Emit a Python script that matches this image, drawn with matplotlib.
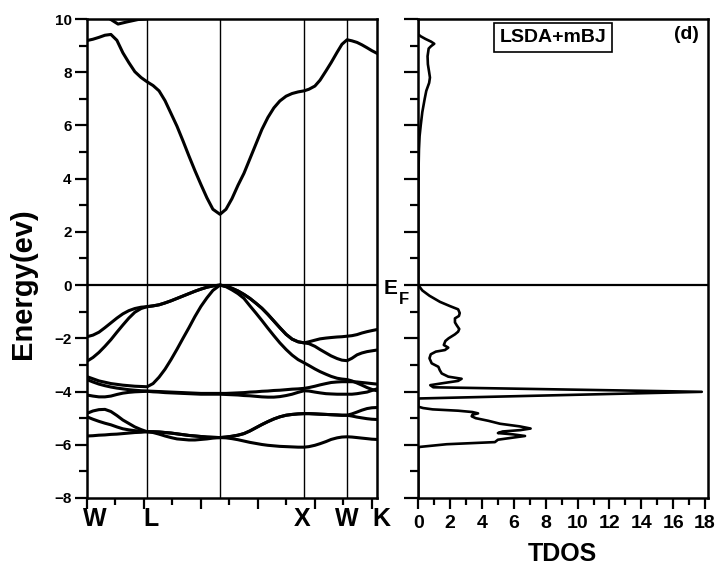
import matplotlib
matplotlib.use("Agg")
import matplotlib.pyplot as plt
import matplotlib.transforms as mtransforms
from matplotlib.ticker import MultipleLocator, NullFormatter

plt.rcParams['font.family'] = ['Liberation Sans', 'DejaVu Sans']
plt.rcParams['font.weight'] = 'bold'

# k-path coordinate (W - L - G - X - W - K)
k_path = [0.000, 0.021, 0.042, 0.063, 0.084, 0.105, 0.126, 0.147, 0.168, 0.190, 0.211,
          0.232, 0.253, 0.274, 0.295, 0.316, 0.337, 0.358, 0.379, 0.400, 0.421, 0.442, 0.467,
          0.488, 0.509, 0.530, 0.551, 0.572, 0.593, 0.614, 0.635, 0.656, 0.677, 0.699, 0.720,
          0.741, 0.762,
          0.779, 0.800, 0.818, 0.839, 0.857, 0.878, 0.895, 0.913,
          0.930, 0.948, 0.965, 0.983, 1.000, 1.018]
k_sym = [0.211, 0.467, 0.762, 0.913]
k_names = ['W', 'L', 'X', 'W', 'K']
k_name_pos = [0.028, 0.225, 0.755, 0.913, 1.032]

# band energies (eV) along k_path
band_1 = [-1.94, -1.88, -1.77, -1.60, -1.42, -1.24, -1.08, -0.96, -0.88, -0.83, -0.81,
          -0.78, -0.74, -0.67, -0.59, -0.50, -0.41, -0.32, -0.23, -0.15, -0.08, -0.03, 0.00,
          -0.04, -0.12, -0.22, -0.35, -0.50, -0.68, -0.87, -1.10, -1.35, -1.60, -1.85, -2.03,
          -2.13, -2.17,
          -2.13, -2.07, -2.02, -1.99, -1.97, -1.95, -1.94, -1.92,
          -1.90, -1.86, -1.80, -1.75, -1.71, -1.67]
band_2 = [-2.86, -2.72, -2.53, -2.30, -2.05, -1.77, -1.50, -1.24, -1.02, -0.88, -0.81,
          -0.78, -0.74, -0.67, -0.59, -0.50, -0.41, -0.32, -0.23, -0.15, -0.08, -0.03, 0.00,
          -0.04, -0.12, -0.22, -0.35, -0.50, -0.68, -0.87, -1.10, -1.35, -1.60, -1.85, -2.03,
          -2.13, -2.17,
          -2.20, -2.30, -2.42, -2.55, -2.66, -2.76, -2.82, -2.84,
          -2.75, -2.62, -2.55, -2.50, -2.47, -2.44]
band_3 = [-3.44, -3.52, -3.60, -3.65, -3.70, -3.73, -3.76, -3.78, -3.80, -3.81, -3.82,
          -3.70, -3.46, -3.16, -2.80, -2.41, -2.00, -1.60, -1.18, -0.80, -0.48, -0.20, 0.00,
          -0.06, -0.18, -0.32, -0.50, -0.78, -1.05, -1.33, -1.62, -1.90, -2.17, -2.42, -2.63,
          -2.80, -2.92,
          -3.02, -3.15, -3.25, -3.35, -3.43, -3.50, -3.53, -3.55,
          -3.60, -3.68, -3.76, -3.85, -3.92, -3.97]
band_4 = [-3.55, -3.64, -3.72, -3.78, -3.83, -3.87, -3.90, -3.93, -3.95, -3.97, -3.98,
          -3.99, -4.00, -4.01, -4.02, -4.03, -4.04, -4.05, -4.06, -4.07, -4.07, -4.07, -4.07,
          -4.07, -4.06, -4.05, -4.04, -4.02, -4.01, -3.99, -3.98, -3.96, -3.95, -3.93, -3.91,
          -3.90, -3.88,
          -3.85, -3.80, -3.75, -3.70, -3.66, -3.64, -3.63, -3.63,
          -3.63, -3.64, -3.66, -3.68, -3.70, -3.72]
band_5 = [-4.13, -4.17, -4.20, -4.20, -4.17, -4.11, -4.06, -4.03, -4.01, -4.00, -3.99,
          -4.01, -4.02, -4.04, -4.05, -4.06, -4.07, -4.08, -4.09, -4.10, -4.10, -4.10, -4.10,
          -4.11, -4.12, -4.13, -4.15, -4.16, -4.18, -4.20, -4.21, -4.21, -4.19, -4.15, -4.10,
          -4.03, -3.97,
          -3.98, -4.02, -4.05, -4.08, -4.09, -4.10, -4.10, -4.10,
          -4.10, -4.08, -4.05, -4.02, -3.96, -3.90]
band_6 = [-4.82, -4.73, -4.68, -4.67, -4.75, -4.90, -5.07, -5.20, -5.33, -5.43, -5.51,
          -5.51, -5.52, -5.54, -5.56, -5.59, -5.62, -5.65, -5.67, -5.69, -5.71, -5.72, -5.73,
          -5.71, -5.68, -5.64, -5.58, -5.48, -5.36, -5.24, -5.13, -5.03, -4.95, -4.89, -4.86,
          -4.84, -4.83,
          -4.83, -4.84, -4.85, -4.86, -4.87, -4.88, -4.89, -4.89,
          -4.84, -4.77, -4.70, -4.64, -4.61, -4.60]
band_7 = [-4.95, -5.04, -5.12, -5.19, -5.25, -5.33, -5.40, -5.44, -5.47, -5.49, -5.51,
          -5.51, -5.52, -5.54, -5.56, -5.59, -5.62, -5.65, -5.67, -5.69, -5.71, -5.72, -5.73,
          -5.71, -5.68, -5.64, -5.58, -5.48, -5.36, -5.24, -5.13, -5.03, -4.95, -4.89, -4.86,
          -4.84, -4.83,
          -4.83, -4.84, -4.85, -4.86, -4.87, -4.88, -4.89, -4.89,
          -4.92, -4.96, -4.99, -5.02, -5.04, -5.05]
band_8 = [-5.67, -5.66, -5.64, -5.63, -5.61, -5.60, -5.58, -5.56, -5.54, -5.53, -5.51,
          -5.54, -5.60, -5.67, -5.73, -5.78, -5.80, -5.82, -5.82, -5.80, -5.78, -5.75, -5.73,
          -5.74, -5.77, -5.81, -5.86, -5.91, -5.95, -5.99, -6.02, -6.04, -6.06, -6.07, -6.08,
          -6.09, -6.09,
          -6.07, -6.02, -5.96, -5.88, -5.80, -5.74, -5.71, -5.70,
          -5.71, -5.73, -5.75, -5.77, -5.79, -5.80]
band_9 = [9.19, 9.24, 9.31, 9.39, 9.42, 9.20, 8.73, 8.36, 8.02, 7.80, 7.64,
          7.50, 7.30, 6.93, 6.45, 5.97, 5.42, 4.85, 4.30, 3.78, 3.28, 2.85, 2.66,
          2.85, 3.25, 3.75, 4.20, 4.75, 5.30, 5.85, 6.30, 6.66, 6.92, 7.10, 7.20,
          7.26, 7.30,
          7.36, 7.48, 7.70, 8.05, 8.36, 8.75, 9.05, 9.22,
          9.18, 9.12, 9.03, 8.92, 8.81, 8.71]
bands = [band_1, band_2, band_3, band_4, band_5, band_6, band_7, band_8, band_9]

# short piece of the next conduction band seen below 10 eV
k_band_10 = [0.081, 0.109, 0.140, 0.179, 0.204]
band_10 = [10.0, 9.81, 9.89, 9.98, 10.0]

# total density of states
dos_energy = [10.0, 9.42, 9.35, 9.25, 9.15, 9.07, 8.98, 8.89, 8.60, 8.30,
              8.00, 7.80, 7.60, 7.30, 7.00, 6.50, 6.00, 5.60, 5.10, 4.50,
              3.50, 2.70, 0.00,
              -0.20, -0.40, -0.63, -0.79, -0.91, -1.05, -1.16, -1.25, -1.40, -1.50,
              -1.65, -1.75, -1.85, -2.00, -2.10, -2.25, -2.35, -2.44, -2.50, -2.60,
              -2.75, -2.94, -3.07, -3.20, -3.32, -3.44, -3.52, -3.60, -3.68, -3.76,
              -3.84, -4.01, -4.26, -4.30, -4.57, -4.62, -4.67, -4.72, -4.77, -4.82,
              -4.87, -4.93, -5.00, -5.10, -5.21, -5.31, -5.39, -5.45, -5.50, -5.56,
              -5.61, -5.67, -5.73, -5.81, -5.90, -5.98, -6.08, -6.12, -8.00]
dos_total = [0.0, 0.0, 0.15, 0.45, 0.80, 1.00, 0.80, 0.65, 0.58, 0.60,
             0.68, 0.73, 0.68, 0.50, 0.40, 0.25, 0.15, 0.08, 0.04, 0.02,
             0.01, 0.0, 0.0,
             0.25, 0.70, 1.36, 1.99, 2.50, 2.60, 2.55, 2.30, 2.30, 2.40,
             2.57, 2.50, 2.30, 1.90, 1.70, 1.60, 1.88, 1.67, 1.10, 0.78,
             0.70, 0.84, 1.26, 1.35, 1.47, 1.88, 2.72, 2.50, 1.60, 0.75,
             0.94, 17.8, 0.07, 0.0, 0.0, 0.30, 0.90, 2.50, 3.40, 3.75,
             3.40, 3.35, 3.60, 4.40, 5.13, 6.38, 7.05, 6.40, 5.30, 5.00,
             5.96, 6.70, 5.96, 5.00, 4.81, 1.78, 0.10, 0.0, 0.0]

fig = plt.figure(figsize=(7.2, 5.69), dpi=100)
ax1 = fig.add_axes([0.1208, 0.1248, 0.4028, 0.8418])
ax2 = fig.add_axes([0.5810, 0.1248, 0.4019, 0.8418])

# band structure
for b in bands:
    ax1.plot(k_path, b, color='black', lw=2.2, solid_joinstyle='round')
ax1.plot(k_band_10, band_10, color='black', lw=2.2, solid_joinstyle='round')
for k in k_sym:
    ax1.axvline(k, color='black', lw=1.0)
ax1.axhline(0, color='black', lw=1.6)

ax1.set_xlim(0, 1.018)
ax1.set_ylim(-8, 10)
ax1.xaxis.set_major_locator(MultipleLocator(0.2))
ax1.xaxis.set_minor_locator(MultipleLocator(0.1))
ax1.xaxis.set_major_formatter(NullFormatter())
ax1.yaxis.set_major_locator(MultipleLocator(2))
ax1.yaxis.set_minor_locator(MultipleLocator(1))
ax1.tick_params(axis='y', which='major', direction='out', length=9, width=1.6,
                labelsize=11, pad=2)
ax1.tick_params(axis='y', which='minor', direction='out', length=5.5, width=1.6)
ax1.tick_params(axis='x', which='major', direction='out', length=8, width=1.6)
ax1.tick_params(axis='x', which='minor', direction='out', length=5, width=1.6)

trans = mtransforms.blended_transform_factory(ax1.transData, ax1.transAxes)
for name, pos in zip(k_names, k_name_pos):
    ax1.text(pos, -0.044, name, transform=trans, ha='center', va='center',
             fontsize=18, fontweight='bold', clip_on=False)

# TDOS panel
ax2.plot(dos_total, dos_energy, color='black', lw=1.9, solid_joinstyle='round')
ax2.axhline(0, color='black', lw=1.6)
ax2.set_xlim(0, 18.17)
ax2.set_ylim(-8, 10)
ax2.xaxis.set_major_locator(MultipleLocator(2))
ax2.xaxis.set_minor_locator(MultipleLocator(1))
ax2.yaxis.set_major_locator(MultipleLocator(2))
ax2.yaxis.set_minor_locator(MultipleLocator(1))
ax2.yaxis.set_major_formatter(NullFormatter())
ax2.tick_params(axis='y', which='major', direction='out', length=10, width=1.6)
ax2.tick_params(axis='y', which='minor', direction='out', length=6, width=1.6)
ax2.tick_params(axis='x', which='major', direction='out', length=8, width=1.6,
                labelsize=14, pad=4)
ax2.tick_params(axis='x', which='minor', direction='out', length=5, width=1.6)

for ax in (ax1, ax2):
    for sp in ax.spines.values():
        sp.set_linewidth(1.8)
    for lab in ax.get_xticklabels() + ax.get_yticklabels():
        lab.set_fontweight('bold')

ax2.text(0.4655, 0.961, 'LSDA+mBJ', transform=ax2.transAxes, ha='center', va='center',
         fontsize=14, fontweight='bold',
         bbox=dict(boxstyle='square,pad=0.3', facecolor='white', edgecolor='black', lw=1.2))
ax2.text(0.928, 0.967, '(d)', transform=ax2.transAxes, ha='center', va='center',
         fontsize=14, fontweight='bold')

# Fermi level label
fig.text(391 / 720, 1 - 288 / 569, 'E', ha='center', va='center', fontsize=15, fontweight='bold')
fig.text(404 / 720, 1 - 299 / 569, 'F', ha='center', va='center', fontsize=12, fontweight='bold')

fig.text(23 / 720, 1 - 284 / 569, 'Energy(ev)', rotation=90, ha='center', va='center',
         fontsize=21, fontweight='bold')
fig.text(562 / 720, 1 - 554 / 569, 'TDOS', ha='center', va='center',
         fontsize=18, fontweight='bold')

fig.savefig('out.png', dpi=100)
